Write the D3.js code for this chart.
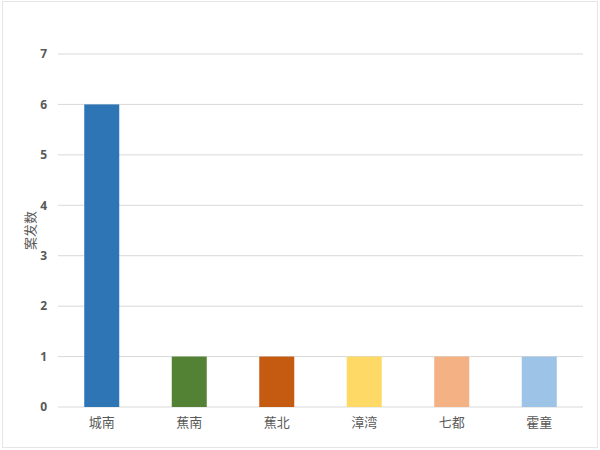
<!DOCTYPE html>
<html><head><meta charset="utf-8">
<script src="https://cdn.jsdelivr.net/npm/d3@7"></script>
<style>body{margin:0;background:#fff}</style>
</head><body>
<script>
const categories = ["城南","蕉南","蕉北","漳湾","七都","霍童"];
const values = [6,1,1,1,1,1];
const colors = ["#2E75B6","#548235","#C55A11","#FFD966","#F4B183","#9DC3E6"];
const yTicks = [0,1,2,3,4,5,6,7];
const yLabel = "案发数";

const W=600,H=450;
const svg=d3.select("body").append("svg").attr("width",W).attr("height",H);
svg.append("rect").attr("x",2.5).attr("y",1.5).attr("width",595).attr("height",446)
  .attr("fill","#fff").attr("stroke","#e6e6e6");
const m={l:58,r:17,t:54,b:43};
const x=d3.scaleBand().domain(categories).range([m.l,W-m.r]).paddingInner(0.6).paddingOuter(0.3);
const y=d3.scaleLinear().domain([0,7]).range([H-m.b,m.t]);

svg.append("g").selectAll("line").data(yTicks).join("line")
  .attr("x1",m.l).attr("x2",W-m.r).attr("y1",d=>y(d)).attr("y2",d=>y(d))
  .attr("stroke","#d9d9d9").attr("stroke-width",1);

svg.append("g").selectAll("rect").data(values).join("rect")
  .attr("x",(d,i)=>x(categories[i])).attr("width",x.bandwidth())
  .attr("y",d=>y(d)).attr("height",d=>y(0)-y(d))
  .attr("fill",(d,i)=>colors[i]);

const ya=svg.append("g").attr("transform",`translate(${m.l},0)`)
  .call(d3.axisLeft(y).tickValues(yTicks).tickSize(0).tickPadding(11).tickFormat(d3.format("d")));
ya.select(".domain").remove();
ya.selectAll("text").attr("font-family","'Open Sans',sans-serif").attr("font-size",12)
  .attr("font-weight","bold").attr("fill","#595959");

const xa=svg.append("g").attr("transform",`translate(0,${y(0)})`)
  .call(d3.axisBottom(x).tickSize(0).tickPadding(11));
xa.select(".domain").remove();
xa.selectAll("text").attr("font-family","'Noto Sans CJK SC',sans-serif").attr("font-size",13)
  .attr("fill","#595959");

svg.append("text").attr("transform",`translate(35,${(y(0)+y(7))/2}) rotate(-90)`)
  .attr("text-anchor","middle").attr("font-family","'Noto Sans CJK SC',sans-serif")
  .attr("font-size",13).attr("fill","#595959").text(yLabel);
</script>
</body></html>
